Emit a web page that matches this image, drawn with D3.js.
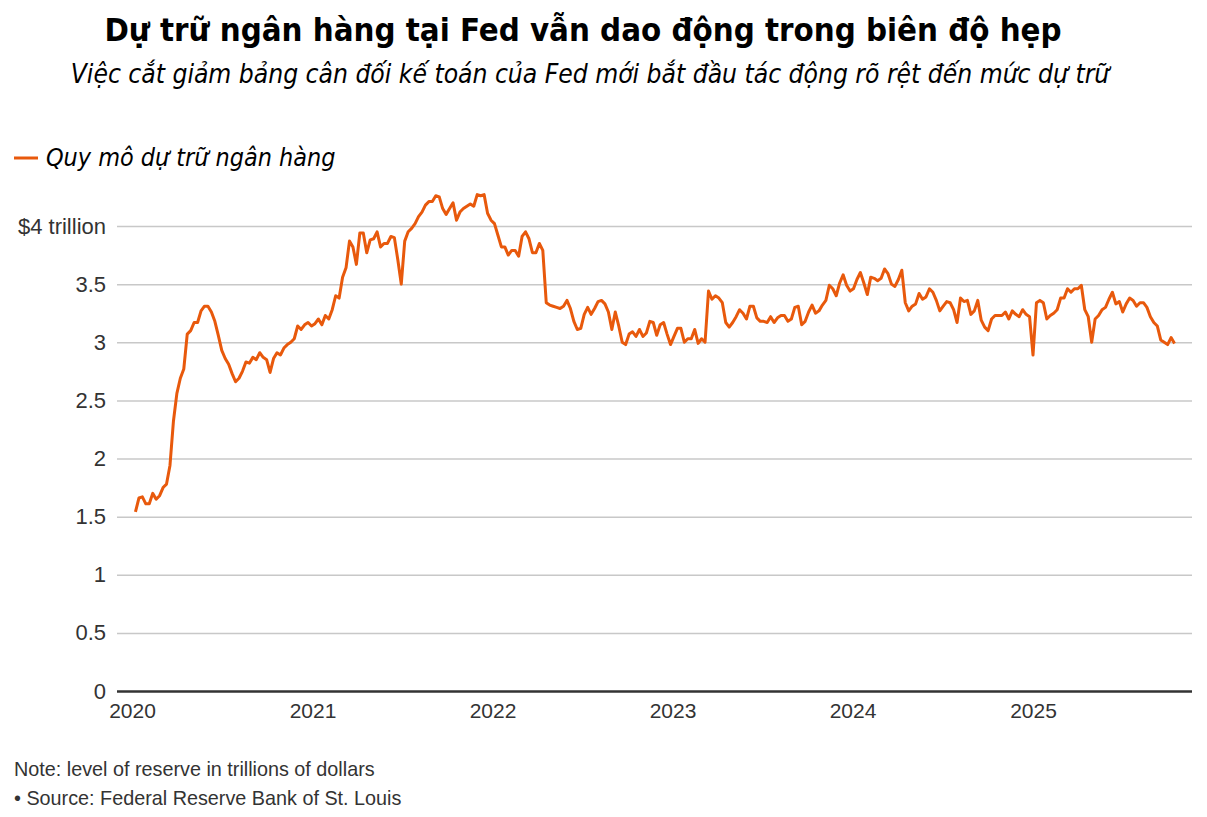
<!DOCTYPE html>
<html>
<head>
<meta charset="utf-8">
<script src="https://cdn.jsdelivr.net/npm/d3@7"></script>
<style>
  body { margin: 0; background: #fff; }
  svg { display: block; }
</style>
</head>
<body>
<div id="chart"></div>
<script>
// weekly reserve balances (trillions USD), Wednesdays from 2020-01-08
var firstWeek = "2020-01-08";
var res2020 = [1.54,1.66,1.67,1.61,1.61,1.70,1.65,1.68,1.75,1.78,1.94,2.32,2.56,2.69,2.77,3.07,3.10,3.17,3.17,3.27,
  3.31,3.31,3.26,3.18,3.06,2.93,2.86,2.81,2.73,2.66,2.69,2.75,2.83,2.82,2.87,2.85,2.91,2.87,2.85,2.74,
  2.86,2.91,2.89,2.95,2.98,3.00,3.03,3.14,3.11,3.15,3.17,3.14];
var res2021 = [3.16,3.20,3.15,3.23,3.20,3.28,3.40,3.38,3.56,3.64,3.87,3.82,3.67,3.94,3.94,3.77,3.88,3.89,3.95,3.82,
  3.85,3.85,3.91,3.90,3.71,3.50,3.87,3.95,3.98,4.02,4.08,4.12,4.18,4.21,4.21,4.26,4.25,4.15,4.10,4.15,
  4.20,4.05,4.12,4.15,4.17,4.19,4.17,4.27,4.26,4.27,4.11,4.05];
var res2022 = [4.02,3.92,3.82,3.82,3.75,3.79,3.79,3.74,3.91,3.95,3.89,3.77,3.77,3.85,3.79,3.34,3.32,
  3.31,3.30,3.29,3.31,3.36,3.29,3.18,3.11,3.12,3.24,3.30,3.24,3.29,3.35,3.36,3.33,3.26,3.11,3.26,3.14,
  3.00,2.98,3.07,3.09,3.05,3.11,3.05,3.08,3.18,3.17,3.06,3.15,3.17,3.07,2.98];
var res2023 = [3.05,3.12,3.12,3.00,3.03,3.03,3.11,2.99,3.03,3.00,3.44,3.37,3.40,3.38,3.34,3.17,3.13,3.17,3.22,3.28,
  3.25,3.20,3.31,3.31,3.21,3.18,3.18,3.17,3.22,3.17,3.21,
  3.23,3.23,3.18,3.20,3.30,3.31,3.15,3.18,3.26,3.32,3.25,3.27,3.32,3.36,3.49,3.46,3.40,3.51,3.58,3.49,3.44];
var res2024 = [3.46,3.54,3.60,3.51,3.41,3.56,3.55,3.53,3.55,3.63,3.59,3.50,3.48,3.54,3.62,3.34,3.27,3.31,3.33,3.42,
  3.37,3.39,3.46,3.43,3.36,3.27,3.31,3.35,3.34,3.28,3.17,3.38,3.35,3.36,3.24,3.27,3.36,3.19,3.13,3.10,
  3.20,3.23,3.23,3.23,3.26,3.20,3.27,3.24,3.22,3.28,3.24,3.22];
var res2025 = [2.89,3.34,3.36,3.34,3.20,3.23,3.25,3.28,3.38,3.38,3.46,3.43,3.46,3.46,3.49,3.28,3.22,3.00,3.20,3.23,
  3.28,3.30,3.37,3.43,3.33,3.35,3.26,3.33,3.38,3.36,3.31,3.34,3.34,3.30,3.22,3.17,3.14,3.02,3.00,2.98,
  3.04,2.99];

var yTicks = [0, 0.5, 1, 1.5, 2, 2.5, 3, 3.5, 4];
var yTickLabels = ["0", "0.5", "1", "1.5", "2", "2.5", "3", "3.5", "$4 trillion"];
var xTicks = ["2020", "2021", "2022", "2023", "2024", "2025"];

var width = 1207, height = 817,
    plot = {left: 117, right: 1192, top: 226, bottom: 691},
    orange = "#e8590c",
    headFont = "'DejaVu Sans Condensed', 'DejaVu Sans', sans-serif",
    bodyFont = "'Liberation Sans', Arial, sans-serif";

var parse = d3.timeParse("%Y-%m-%d");
var start = parse(firstWeek);
var values = [].concat(res2020, res2021, res2022, res2023, res2024, res2025);
var data = values.map(function (v, i) {
  return {date: d3.timeDay.offset(start, 7 * i), value: v};
});

var x = d3.scaleTime()
  .domain([new Date(2020, 0, 1), new Date(2025, 0, 1)])
  .range([132, 1033]);

var y = d3.scaleLinear()
  .domain([0, 4])
  .range([plot.bottom, plot.top]);

var svg = d3.select("#chart").append("svg")
  .attr("width", width)
  .attr("height", height);

// title + subtitle
svg.append("text")
  .attr("x", 583)
  .attr("y", 41)
  .attr("text-anchor", "middle")
  .style("font-family", headFont)
  .style("font-weight", "bold")
  .style("font-size", "32.7px")
  .attr("fill", "#000")
  .text("Dự trữ ngân hàng tại Fed vẫn dao động trong biên độ hẹp");

svg.append("text")
  .attr("x", 590)
  .attr("y", 83)
  .attr("text-anchor", "middle")
  .style("font-family", headFont)
  .style("font-style", "italic")
  .style("font-size", "26.2px")
  .attr("fill", "#000")
  .text("Việc cắt giảm bảng cân đối kế toán của Fed mới bắt đầu tác động rõ rệt đến mức dự trữ");

// legend
svg.append("line")
  .attr("x1", 14).attr("x2", 38)
  .attr("y1", 158).attr("y2", 158)
  .attr("stroke", orange)
  .attr("stroke-width", 3);

svg.append("text")
  .attr("x", 46)
  .attr("y", 166)
  .style("font-family", headFont)
  .style("font-style", "italic")
  .style("font-size", "24.9px")
  .attr("fill", "#000")
  .text("Quy mô dự trữ ngân hàng");

// y axis with gridlines
var yAxis = svg.append("g")
  .attr("class", "y axis")
  .attr("transform", "translate(" + plot.left + ",0)")
  .call(d3.axisLeft(y)
    .tickValues(yTicks)
    .tickSize(-(plot.right - plot.left))
    .tickPadding(11)
    .tickFormat(function (d, i) { return yTickLabels[i]; }));

yAxis.select(".domain").remove();
yAxis.selectAll(".tick line")
  .attr("stroke", function (d) { return d === 0 ? "#333" : "#c8c8c8"; })
  .attr("stroke-width", function (d) { return d === 0 ? 2.5 : 1.5; });
yAxis.selectAll(".tick text")
  .attr("fill", "#333")
  .style("font-family", bodyFont)
  .style("font-size", "22px");

// x axis
var xAxis = svg.append("g")
  .attr("class", "x axis")
  .attr("transform", "translate(0," + plot.bottom + ")")
  .call(d3.axisBottom(x)
    .tickValues(xTicks.map(function (d) { return parse(d + "-01-01"); }))
    .tickSize(0)
    .tickPadding(12)
    .tickFormat(d3.timeFormat("%Y")));

xAxis.select(".domain").remove();
xAxis.selectAll(".tick text")
  .attr("fill", "#333")
  .style("font-family", bodyFont)
  .style("font-size", "21px");

// reserves line
var line = d3.line()
  .x(function (d) { return x(d.date); })
  .y(function (d) { return y(d.value); });

svg.append("path")
  .datum(data)
  .attr("fill", "none")
  .attr("stroke", orange)
  .attr("stroke-width", 3)
  .attr("stroke-linejoin", "round")
  .attr("d", line);

// notes
svg.append("text")
  .attr("x", 14)
  .attr("y", 776)
  .style("font-family", bodyFont)
  .style("font-size", "19.8px")
  .attr("fill", "#333")
  .text("Note: level of reserve in trillions of dollars");

svg.append("text")
  .attr("x", 14)
  .attr("y", 805)
  .style("font-family", bodyFont)
  .style("font-size", "19.8px")
  .attr("fill", "#333")
  .text("• Source: Federal Reserve Bank of St. Louis");
</script>
</body>
</html>
